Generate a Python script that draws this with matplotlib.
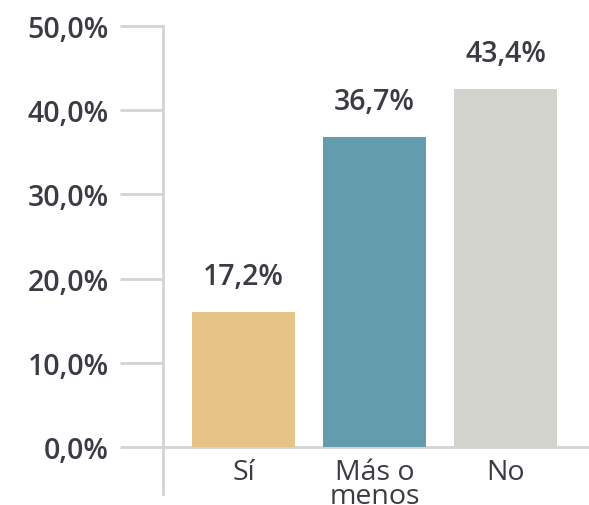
import matplotlib.pyplot as plt
import matplotlib.transforms as mtransforms
from matplotlib import font_manager

# data
categories = ['Sí', 'Más o\nmenos', 'No']
bar_values = [16.0, 36.8, 42.5]
value_labels = ['17,2%', '36,7%', '43,4%']
colors = ['#E6C488', '#639DAD', '#D3D3CE']
yticks = [0, 10, 20, 30, 40, 50]
ytick_labels = ['0,0%', '10,0%', '20,0%', '30,0%', '40,0%', '50,0%']

text_color = '#3B3B44'
axis_color = '#D4D4CF'

plt.rcParams['font.family'] = ['Open Sans', 'DejaVu Sans']

# pick the static semibold file explicitly
semi_path = None
for f in font_manager.fontManager.ttflist:
    if f.fname.endswith('OpenSans-Semibold.ttf'):
        semi_path = f.fname
if semi_path:
    semi = font_manager.FontProperties(fname=semi_path, size=20.5)
else:
    semi = font_manager.FontProperties(family='Open Sans', weight='semibold', size=20.5)

fig = plt.figure(figsize=(5.89, 5.06), dpi=100)
ax = fig.add_axes([163 / 589, 11 / 506, 1 - 163 / 589, (495 - 27) / 506])

x = range(len(categories))
ax.bar(x, bar_values, width=0.786, color=colors, zorder=2)

ax.set_xlim(-0.615, 2.637)
ax.set_ylim(-5.6, 50)

for s in ['top', 'right', 'bottom']:
    ax.spines[s].set_visible(False)
ax.spines['left'].set_color(axis_color)
ax.spines['left'].set_linewidth(2)
ax.axhline(0, color=axis_color, linewidth=2, zorder=1)

ax.set_yticks(yticks)
ax.set_yticklabels(ytick_labels, fontproperties=semi, color=text_color)
ax.tick_params(axis='y', length=31, width=2, color=axis_color, pad=8)
ax.set_xticks([])

# value labels above bars
for xi, v, lab in zip(x, bar_values, value_labels):
    ax.annotate(lab, (xi, v), xytext=(0, 20), textcoords='offset points',
                ha='center', va='baseline', fontproperties=semi,
                color=text_color)

# category labels under the baseline
trans = mtransforms.offset_copy(ax.transData, fig=fig, x=0, y=-8, units='points')
for xi, c in zip(x, categories):
    ax.text(xi, 0, c, transform=trans, ha='center', va='top', fontsize=20.5,
            color=text_color, linespacing=0.8)

fig.savefig('out.png', dpi=100)
